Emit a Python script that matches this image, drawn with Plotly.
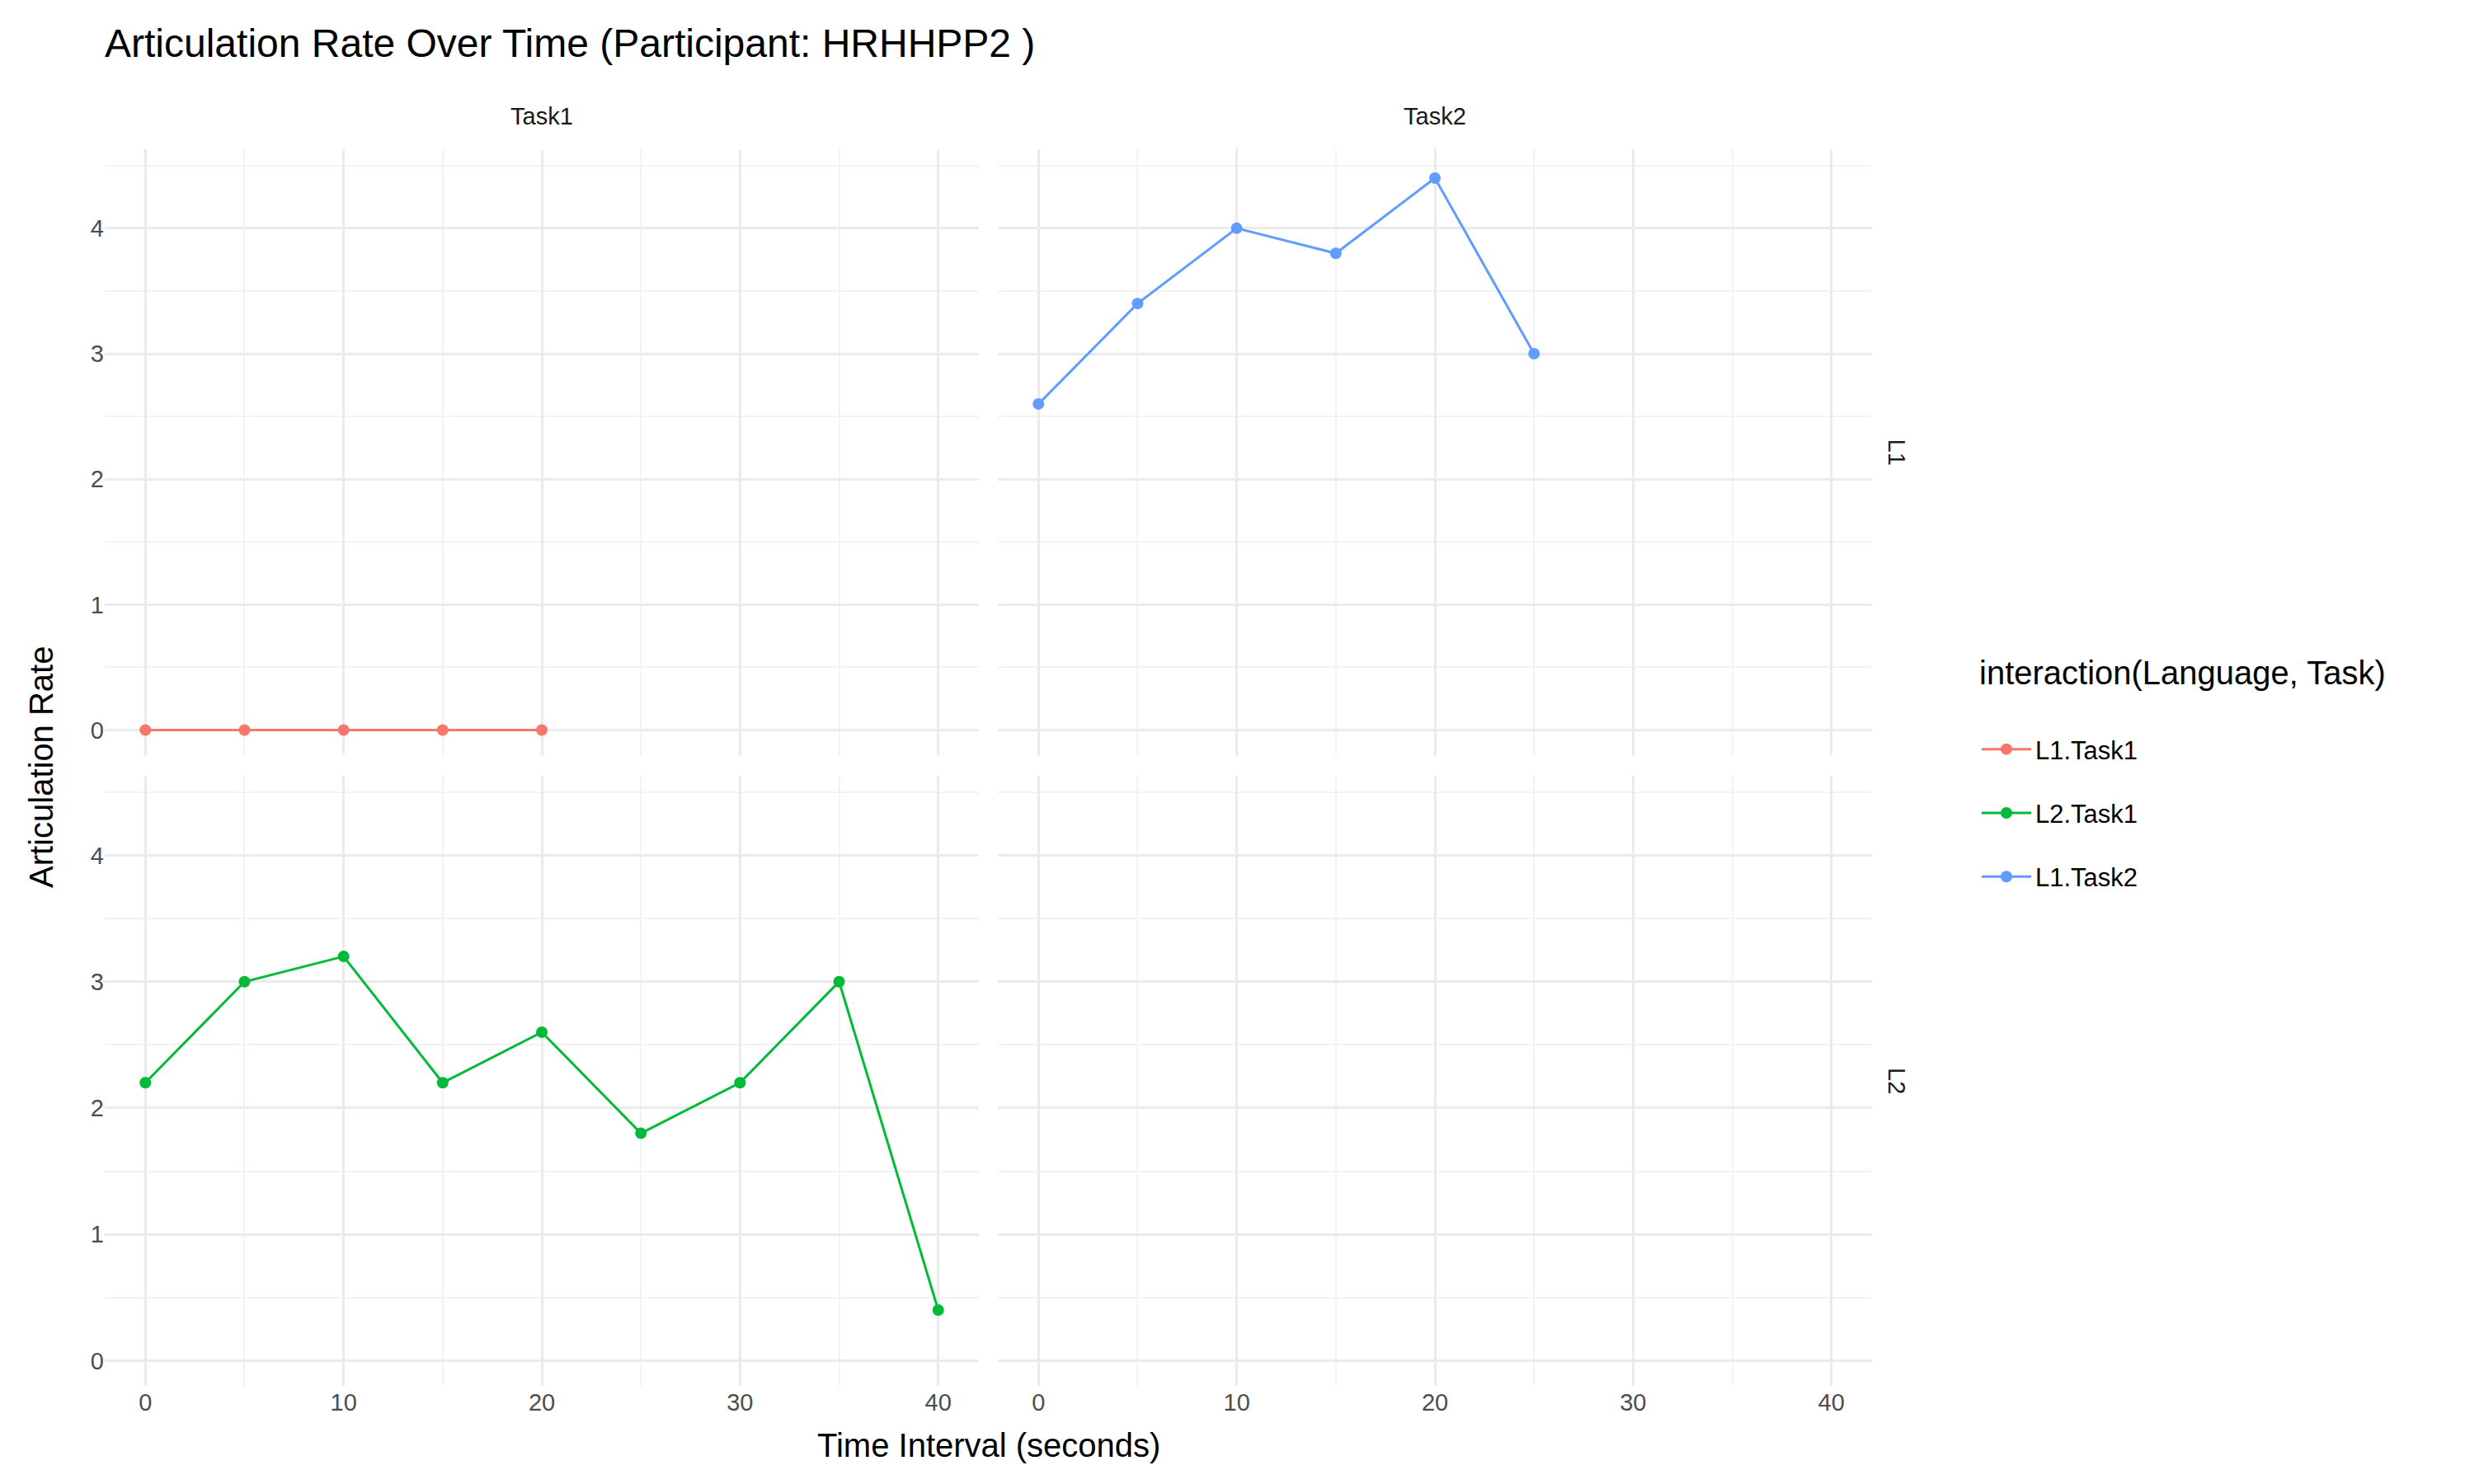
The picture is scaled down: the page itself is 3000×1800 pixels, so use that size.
import plotly.graph_objects as go

x_l1_task1 = [0, 5, 10, 15, 20]
y_l1_task1 = [0, 0, 0, 0, 0]
x_l2_task1 = [0, 5, 10, 15, 20, 25, 30, 35, 40]
y_l2_task1 = [2.2, 3.0, 3.2, 2.2, 2.6, 1.8, 2.2, 3.0, 0.4]
x_l1_task2 = [0, 5, 10, 15, 20, 25]
y_l1_task2 = [2.6, 3.4, 4.0, 3.8, 4.4, 3.0]

colors = {"L1.Task1": "#F8766D", "L2.Task1": "#00BA38", "L1.Task2": "#619CFF"}
FONT = "Liberation Sans"

fig = go.Figure()

def add(name, x, y, xa, ya):
    fig.add_trace(go.Scatter(x=x, y=y, mode="lines+markers", name=name, legendgroup=name,
                             line=dict(color=colors[name], width=3),
                             marker=dict(color=colors[name], size=14),
                             xaxis=xa, yaxis=ya))

add("L1.Task1", x_l1_task1, y_l1_task1, "x", "y")
add("L2.Task1", x_l2_task1, y_l2_task1, "x3", "y3")
add("L1.Task2", x_l1_task2, y_l1_task2, "x2", "y2")
# empty panel (L2, Task2) still needs its axes drawn
fig.add_trace(go.Scatter(x=[None], y=[None], xaxis="x4", yaxis="y4", showlegend=False))

W, H = 3000, 1800
def fx(p): return p / W
def fy(p): return 1 - p / H

xdom = [(fx(119), fx(1179)), (fx(1202), fx(2262))]
ydom = [(fy(908), fy(173)), (fy(1673), fy(933))]

common_x = dict(range=[-2.05, 42.05], tickvals=[0, 10, 20, 30, 40], showgrid=True,
                gridcolor="#EBEBEB", gridwidth=3, zeroline=False, showline=False,
                minor=dict(tickvals=[5, 15, 25, 35], showgrid=True, gridcolor="#F3F3F3", gridwidth=1.5),
                tickfont=dict(size=29, color="#4D4D4D"))
common_y = dict(range=[-0.2, 4.63], tickvals=[0, 1, 2, 3, 4], showgrid=True,
                gridcolor="#EBEBEB", gridwidth=3, zeroline=False, showline=False,
                minor=dict(tickvals=[0.5, 1.5, 2.5, 3.5, 4.5], showgrid=True, gridcolor="#F3F3F3", gridwidth=1.5),
                tickfont=dict(size=29, color="#4D4D4D"))

layout = dict(width=W, height=H, plot_bgcolor="white", paper_bgcolor="white",
              font=dict(family=FONT, color="black"),
              margin=dict(l=0, r=0, t=0, b=0),
              title=dict(text="Articulation Rate Over Time (Participant: HRHHPP2 )",
                         x=fx(119), xanchor="left", y=fy(44), yanchor="middle",
                         font=dict(size=48)),
              legend=dict(x=fx(2390), y=fy(770), xanchor="left", yanchor="top",
                          title=dict(text="interaction(Language, Task)<br> ", font=dict(size=40)),
                          font=dict(size=31), tracegroupgap=34, itemwidth=60))
axes = [("xaxis", "yaxis", 0, 0), ("xaxis2", "yaxis2", 1, 0),
        ("xaxis3", "yaxis3", 0, 1), ("xaxis4", "yaxis4", 1, 1)]
for i, (xk, yk, c, r) in enumerate(axes):
    n = "" if i == 0 else str(i + 1)
    layout[xk] = dict(common_x, domain=xdom[c], anchor="y" + n, showticklabels=(r == 1))
    layout[yk] = dict(common_y, domain=ydom[r], anchor="x" + n, showticklabels=(c == 0))
fig.update_layout(**layout)

ann = [
    dict(text="Task1", x=(xdom[0][0] + xdom[0][1]) / 2, y=fy(133), font=dict(size=29, color="#1A1A1A")),
    dict(text="Task2", x=(xdom[1][0] + xdom[1][1]) / 2, y=fy(133), font=dict(size=29, color="#1A1A1A")),
    dict(text="L1", x=fx(2292), y=(ydom[0][0] + ydom[0][1]) / 2, textangle=90, font=dict(size=29, color="#1A1A1A")),
    dict(text="L2", x=fx(2292), y=(ydom[1][0] + ydom[1][1]) / 2, textangle=90, font=dict(size=29, color="#1A1A1A")),
    dict(text="Time Interval (seconds)", x=(xdom[0][0] + xdom[1][1]) / 2, y=fy(1745), font=dict(size=40)),
    dict(text="Articulation Rate", x=fx(42), y=(ydom[1][0] + ydom[0][1]) / 2, textangle=-90, font=dict(size=40)),
]
for a in ann:
    fig.add_annotation(xref="paper", yref="paper", showarrow=False, xanchor="center", yanchor="middle", **a)

fig.write_html("out.html")
